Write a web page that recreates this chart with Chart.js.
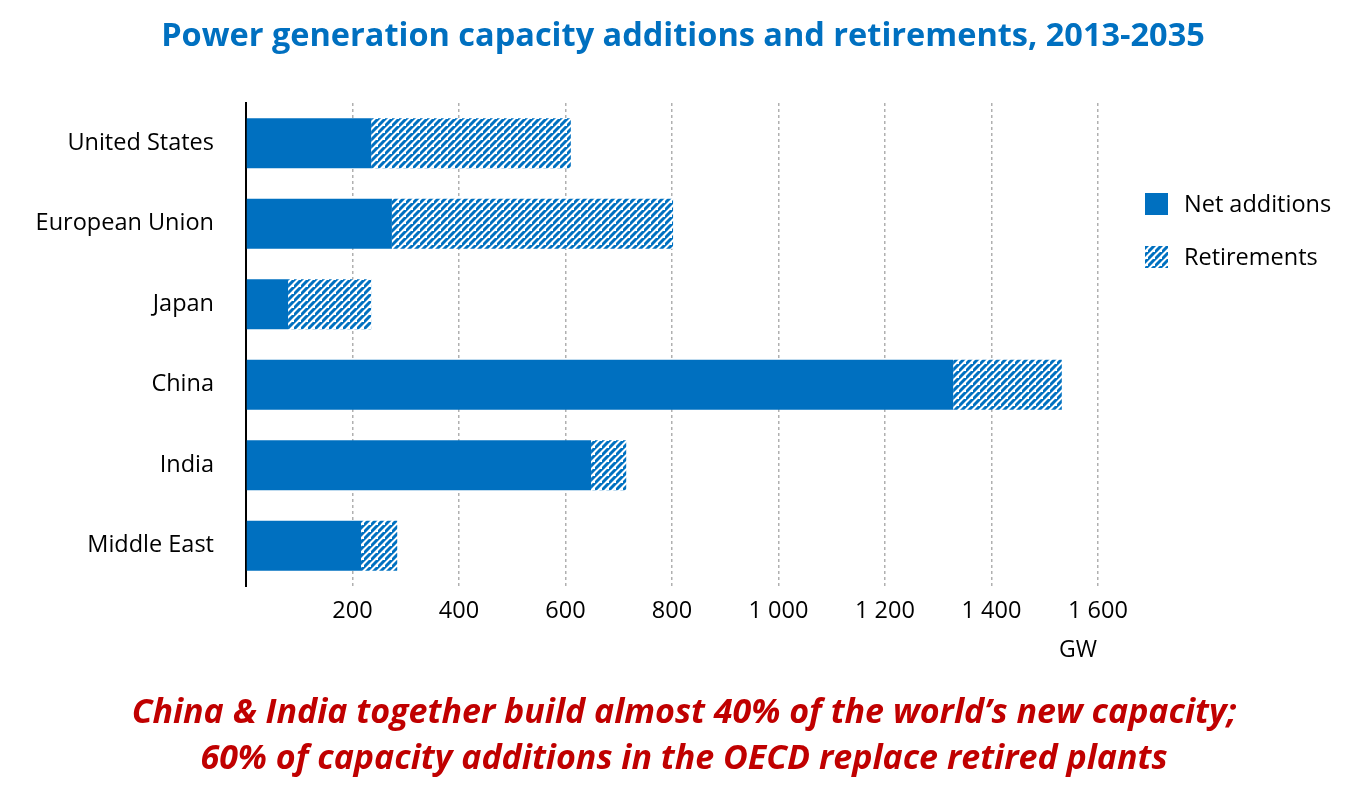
<!DOCTYPE html>
<html>
<head>
<meta charset="utf-8">
<script src="https://cdn.jsdelivr.net/npm/chart.js@4"></script>
<style>
html,body{margin:0;padding:0;background:#fff;}
#wrap{position:relative;width:1351px;height:805px;}
</style>
</head>
<body>
<div id="wrap"><canvas id="c" width="1351" height="805"></canvas></div>
<script>
const categories = ["United States", "European Union", "Japan", "China", "India", "Middle East"];
const netAdditions = [235, 274, 79, 1328, 648, 216];
const retirements = [375, 528, 156, 204, 66, 68];
const seriesNames = ["Net additions", "Retirements"];
const xTicks = [200, 400, 600, 800, 1000, 1200, 1400, 1600];
const titleText = "Power generation capacity additions and retirements, 2013-2035";
const subtitleLines = ["China & India together build almost 40% of the world\u2019s new capacity;", "60% of capacity additions in the OECD replace retired plants"];
const unitLabel = "GW";

const BLUE = "#0070C0";
const FONT = "'Open Sans', 'DejaVu Sans', sans-serif";

function makeHatch() {
  const s = 7;
  const p = document.createElement('canvas');
  p.width = s; p.height = s;
  const g = p.getContext('2d');
  g.fillStyle = '#fff';
  g.fillRect(0, 0, s, s);
  g.strokeStyle = BLUE;
  g.lineWidth = 3;
  g.beginPath();
  g.moveTo(-1, s + 1); g.lineTo(s + 1, -1);
  g.moveTo(-1 - s, s + 1); g.lineTo(1, -1);
  g.moveTo(s - 1, 2 * s + 1); g.lineTo(2 * s + 1, s - 1);
  g.stroke();
  return document.getElementById('c').getContext('2d').createPattern(p, 'repeat');
}
const hatch = makeHatch();

const CA = {left: 246, right: 1098, top: 103, bottom: 586};

const overlay = {
  id: 'overlay',
  afterDraw(chart) {
    const ctx = chart.ctx;
    ctx.save();
    ctx.textBaseline = 'middle';
    ctx.textAlign = 'center';
    ctx.fillStyle = BLUE;
    ctx.font = "bold 32.5px " + FONT;
    ctx.fillText(titleText, 683, 37);
    ctx.fillStyle = '#C00000';
    ctx.font = "italic bold 34px " + FONT;
    ctx.fillText(subtitleLines[0], 684, 713);
    ctx.fillText(subtitleLines[1], 684, 759);
    ctx.fillStyle = '#000';
    ctx.font = "23px " + FONT;
    ctx.fillText(unitLabel, 1078, 650);
    // legend
    ctx.textAlign = 'left';
    ctx.fillStyle = BLUE;
    ctx.fillRect(1145, 193, 23, 22);
    ctx.fillStyle = hatch;
    ctx.fillRect(1145, 246, 23, 22);
    ctx.fillStyle = '#000';
    ctx.font = "23.5px " + FONT;
    ctx.fillText(seriesNames[0], 1184, 205);
    ctx.fillText(seriesNames[1], 1184, 258);
    ctx.restore();
  }
};

new Chart(document.getElementById('c'), {
  type: 'bar',
  data: {
    labels: categories,
    datasets: [
      {label: seriesNames[0], data: netAdditions, backgroundColor: BLUE, borderWidth: 0},
      {label: seriesNames[1], data: retirements, backgroundColor: hatch, borderWidth: 0}
    ]
  },
  options: {
    indexAxis: 'y',
    responsive: false,
    animation: false,
    devicePixelRatio: 1,
    layout: {padding: {left: 0, right: 1351 - CA.right, top: CA.top, bottom: 805 - CA.bottom - 60}},
    datasets: {bar: {barPercentage: 0.62, categoryPercentage: 1.0}},
    plugins: {legend: {display: false}, tooltip: {enabled: false}, title: {display: false}},
    scales: {
      x: {
        stacked: true,
        min: 0, max: 1600,
        afterFit(s) { s.height = 60; },
        afterBuildTicks(s) { s.ticks = [{value: 0}].concat(xTicks.map(v => ({value: v}))); },
        ticks: {
          color: '#000',
          font: {family: FONT, size: 23.5},
          padding: 11,
          callback: v => v === 0 ? '' : String(v).replace(/\B(?=(\d{3})+(?!\d))/g, ' ')
        },
        grid: {color: '#b0b0b0', lineWidth: 1.5, drawTicks: false, tickLength: 0},
        border: {display: false, dash: [3, 3]}
      },
      y: {
        stacked: true,
        afterFit(s) { s.width = CA.left; },
        ticks: {color: '#000', font: {family: FONT, size: 23.5}, padding: 32},
        grid: {display: false, drawTicks: false},
        border: {display: true, color: '#000', width: 2}
      }
    }
  },
  plugins: [overlay]
});
</script>
</body>
</html>
